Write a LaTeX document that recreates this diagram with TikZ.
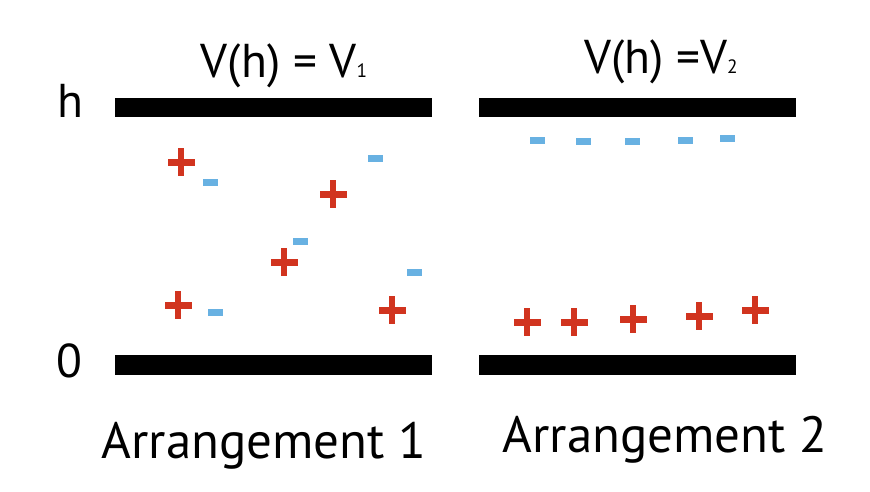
\documentclass[tikz,border=0pt]{standalone}
\usepackage{fontspec}
\setmainfont{PT Sans}
\definecolor{posred}{HTML}{D1341F}
\definecolor{negblue}{HTML}{68B1E2}
\tikzset{
  plate/.style={fill=black},
  label/.style={anchor=base, inner sep=0pt, font=\fontsize{27}{28}\selectfont},
  caption/.style={anchor=base, inner sep=0pt, font=\fontsize{29}{32}\selectfont},
  plus/.style={fill=posred},
  minus/.style={fill=negblue}
}
\newcommand{\subdigit}[1]{{\fontsize{11}{12}\selectfont #1}}
\begin{document}
\begin{tikzpicture}[x=0.02cm,y=-0.02cm]
	  \useasboundingbox (0,0) rectangle (870,491);

	  % plates
	  \fill [plate] (115,98) rectangle (432,117);
	  \fill [plate] (115,355) rectangle (432,375);
	  \fill [plate] (479,98) rectangle (796,117);
	  \fill [plate] (479,355) rectangle (796,375);

	  \node [label] (h) at (70,117) {h};
	  \node [label] (zero) at (69,377) {0};
	  \node [label] (v1) at (284,77) {V(h) = V\subdigit{1}};
	  \node [label] (v2) at (661,73) {V(h) =V\subdigit{2}};
	  \node [caption] (arr1) at (264,458) {Arrangement 1};
	  \node [caption] (arr2) at (665,452) {Arrangement 2};

	  % positive charges
	  \foreach \x/\y in {181/162, 333/194, 284/262, 178/305, 392/310,
	                     527/322, 574/322, 633/319, 699/316, 755/310}
	    {
	      \fill [plus] ({\x-13.5},{\y-3.5}) rectangle ({\x+13.5},{\y+3.5});
	      \fill [plus] ({\x-3.2},{\y-14}) rectangle ({\x+3.2},{\y+14});
	    }

	  % negative charges
	  \foreach \x/\y in {210/182, 375/158, 300/241, 414/272, 215/312,
	                     537/140, 583/141, 632/141, 685/140, 727/138}
	    \fill [minus] ({\x-7.5},{\y-3.5}) rectangle ({\x+7.5},{\y+3.5});
	\end{tikzpicture}
\end{document}
